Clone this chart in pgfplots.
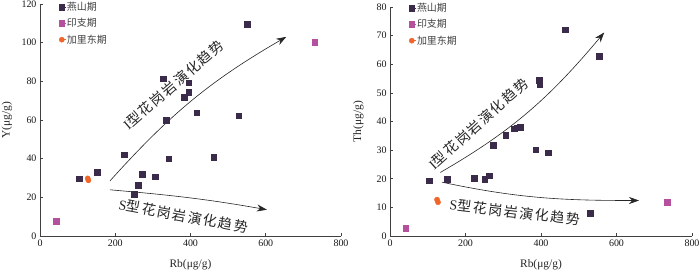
\documentclass[border=0pt]{standalone}
\usepackage{pgfplots}
\pgfplotsset{compat=1.18}
\usepackage{pgfplotstable}
\usepackage{fontspec}
\setmainfont{Liberation Serif}
\newfontfamily\cjk{Noto Sans CJK SC}
\newfontfamily\cjkt[LetterSpace=12]{Noto Sans CJK SC}
\usetikzlibrary{arrows.meta}
\definecolor{ys}{HTML}{3B2B4B}
\definecolor{yz}{HTML}{B5509F}
\definecolor{jl}{HTML}{F0662A}

\pgfplotstableread{
x y
104.7 29.7
151.7 32.9
224.4 42.0
251.0 21.5
261.6 26.3
272.3 31.9
306.9 30.7
328.2 81.4
335.3 60.0
342.4 40.0
383.1 71.7
394.7 74.4
395.6 79.2
416.9 63.7
462.1 40.8
528.6 62.2
550.8 109.5
}\ysL
\pgfplotstableread{
x y
43.5 7.6
730.0 100.2
}\yzL
\pgfplotstableread{
x y
126.8 29.8
128.6 28.8
}\jlL
\pgfplotstableread{
x y
103.5 19.3
150.9 19.9
223.7 20.2
250.9 19.9
262.3 21.1
273.7 31.7
307.0 35.2
329.0 37.5
337.0 37.8
344.7 38.0
386.0 30.1
394.7 54.4
396.5 52.8
418.4 29.1
464.0 72.1
530.7 7.9
554.4 62.9
}\ysR
\pgfplotstableread{
x y
42.1 2.8
734.0 11.9
}\yzR
\pgfplotstableread{
x y
124.6 12.7
127.2 11.8
}\jlR

\tikzset{
 arr/.style={-{Stealth[length=10bp,width=7bp]}, line width=0.6bp, color=black!85},
 trend/.style={font=\fontsize{14}{14}\selectfont, color=black!85, inner sep=0pt},
}
\pgfplotsset{
 myax/.style={
  scale only axis, axis lines=left,
  axis line style={-, color=black!75, line width=0.6bp},
  tick align=inside, major tick length=3bp,
  tick style={color=black!75, line width=0.5bp},
  xmin=0, xmax=800, xtick={0,200,...,800}, ymin=0,
  ticklabel style={font=\fontsize{10}{12}\selectfont, color=black!90},
  /pgf/number format/assume math mode=true,
  x label style={anchor=center, font=\fontsize{11.5}{13}\selectfont, color=black!85},
  y label style={anchor=center, font=\fontsize{11.5}{13}\selectfont, color=black!85},
  legend style={draw=none, fill=none, inner sep=0pt, outer sep=0pt,
    at={(axis description cs:0,1)}, anchor=north west,
    font=\cjk\fontsize{10}{12}\selectfont, row sep=4.5bp,
    nodes={inner sep=1bp, text=black!75}},
  legend cell align=left,
  legend image code/.code={\draw[#1] plot coordinates {(0bp,0bp)};\path (0bp,0bp) -- (4bp,0bp);},
  clip=false,
 },
 ysm/.style={only marks, mark=square*, mark size=2.8bp, color=ys},
 yzm/.style={only marks, mark=square*, mark size=2.8bp, color=yz},
 jlm/.style={only marks, mark=*, mark size=2.6bp, color=jl},
}

\begin{document}
\begin{tikzpicture}
\useasboundingbox (0,0) rectangle (700bp,272bp);
\begin{axis}[myax, at={(40bp,36bp)}, anchor=south west, width=301bp, height=232bp,
  ymax=120, ytick={0,20,...,120},
  xlabel={Rb(μg/g)}, ylabel={Y(μg/g)},
  x label style={at={(axis description cs:0.5,-0.125)}},
  y label style={at={(axis description cs:-0.11,0.5)}},
  legend style={xshift=19bp, yshift=3bp}]
\addplot[ysm] table {\ysL};
\addlegendentry{燕山期}
\addplot[yzm] table {\yzL};
\addlegendentry{印支期}
\addplot[jlm] table {\jlL};
\addlegendentry{加里东期}
\draw[arr] (axis cs:186,28.5) to[out=48,in=210] (axis cs:654.6,103);
\draw[arr] (axis cs:186,23.9) to[out=-5,in=170] (axis cs:603,13.6);
\node[trend, rotate=41] at (axis cs:354.8,78.1) {I{\cjkt 型花岗岩演化趋势}};
\node[trend, rotate=-10.4] at (axis cs:381.4,10.3) {S{\cjkt 型花岗岩演化趋势}};
\end{axis}
\begin{axis}[myax, at={(390bp,36bp)}, anchor=south west, width=302bp, height=229bp,
  ymax=80, ytick={0,10,...,80},
  xlabel={Rb(μg/g)}, ylabel={Th(μg/g)},
  x label style={at={(axis description cs:0.5,-0.127)}},
  y label style={at={(axis description cs:-0.105,0.5)}},
  legend style={xshift=19bp, yshift=5bp}]
\addplot[ysm] table {\ysR};
\addlegendentry{燕山期}
\addplot[yzm] table {\yzR};
\addlegendentry{印支期}
\addplot[jlm] table {\jlR};
\addlegendentry{加里东期}
\draw[arr] (axis cs:133.3,22.2) to[out=30,in=230] (axis cs:567.5,71.1);
\draw[arr] (axis cs:137.7,18.8) to[out=-12,in=180] (axis cs:659.6,12.4);
\node[trend, rotate=42] at (axis cs:234.2,39.2) {I{\cjkt 型花岗岩演化趋势}};
\node[trend, rotate=-6.6] at (axis cs:330.7,8.3) {S{\cjkt 型花岗岩演化趋势}};
\end{axis}
\end{tikzpicture}
\end{document}
